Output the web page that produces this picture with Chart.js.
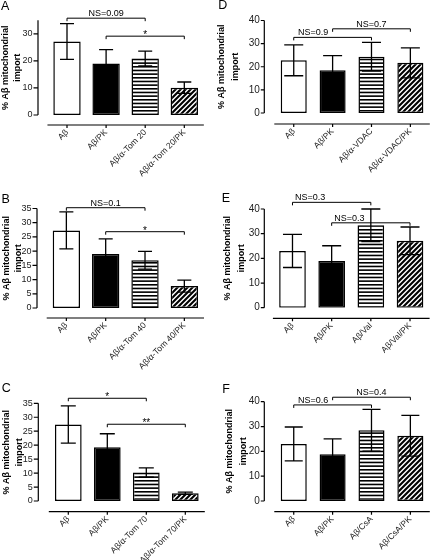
<!DOCTYPE html>
<html><head><meta charset="utf-8">
<script src="https://cdn.jsdelivr.net/npm/chart.js@4.4.1/dist/chart.umd.min.js"></script>
<style>
html,body{margin:0;padding:0;background:#fff;overflow:hidden;width:430px;height:560px;}
canvas{position:absolute;}
</style></head><body>
<canvas id="cA"></canvas><canvas id="cB"></canvas><canvas id="cC"></canvas>
<canvas id="cD"></canvas><canvas id="cE"></canvas><canvas id="cF"></canvas>
<script>
// ---------------- data ----------------
const yTitle = ['% Aβ mitochondrial', 'import'];

const labelsA = ['Aβ', 'Aβ/PK', 'Aβ/α-Tom 20', 'Aβ/α-Tom 20/PK'];
const valuesA = [27.2, 19.0, 20.9, 10.1];
const errorsA = [6.6, 5.2, 2.7, 2.1];
const bracketsA = [{from: 0, to: 2, text: 'NS=0.09'}, {from: 1, to: 3, text: '*'}];

const labelsB = ['Aβ', 'Aβ/PK', 'Aβ/α-Tom 40', 'Aβ/α-Tom 40/PK'];
const valuesB = [27.3, 19.0, 16.8, 7.7];
const errorsB = [6.5, 5.3, 3.1, 2.1];
const bracketsB = [{from: 0, to: 2, text: 'NS=0.1'}, {from: 1, to: 3, text: '*'}];

const labelsC = ['Aβ', 'Aβ/PK', 'Aβ/α-Tom 70', 'Aβ/α-Tom 70/PK'];
const valuesC = [27.4, 19.3, 10.2, 2.8];
const errorsC = [6.7, 4.8, 1.7, 0.4];
const bracketsC = [{from: 0, to: 2, text: '*'}, {from: 1, to: 3, text: '**'}];

const labelsD = ['Aβ', 'Aβ/PK', 'Aβ/α-VDAC', 'Aβ/α-VDAC/PK'];
const valuesD = [22.8, 18.5, 24.3, 21.7];
const errorsD = [6.7, 6.3, 6.2, 6.5];
const bracketsD = [{from: 0, to: 2, text: 'NS=0.9'}, {from: 1, to: 3, text: 'NS=0.7'}];

const labelsE = ['Aβ', 'Aβ/PK', 'Aβ/Val', 'Aβ/Val/PK'];
const valuesE = [23.0, 18.9, 33.4, 27.1];
const errorsE = [6.7, 6.2, 6.6, 5.6];
const bracketsE = [{from: 0, to: 2, text: 'NS=0.3'}, {from: 1, to: 3, text: 'NS=0.3'}];

const labelsF = ['Aβ', 'Aβ/PK', 'Aβ/CsA', 'Aβ/CsA/PK'];
const valuesF = [23.0, 18.8, 28.5, 26.3];
const errorsF = [6.8, 6.2, 8.4, 8.2];
const bracketsF = [{from: 0, to: 2, text: 'NS=0.6'}, {from: 1, to: 3, text: 'NS=0.4'}];

const yMaxABC = 35, yStepABC = 5;
const yMaxDEF = 40, yStepDEF = 10;

// ---------------- layout / style (page pixels) ----------------
const FONT = "'Liberation Sans', Arial, Helvetica, sans-serif";
Chart.defaults.font.family = FONT;
Chart.defaults.color = '#000';
Chart.defaults.animation = false;

const panels = [
  {id: 'cA', letter: 'A', labels: labelsA, values: valuesA, errors: errorsA, brackets: bracketsA, yMax: yMaxABC, yStep: yStepABC,
   canvas: {l: 0, t: 0, w: 215, h: 185}, area: {l: 47.45, r: 203.85, t: 15, b: 115}, yAxisX: 38, xAxisY: 125,
   letterPos: [1, 9.5], tickFont: 9, yTick: 4.5, titleLH: 12, titlePad: 0, cap: 14, barPct: 0.7,
   bLevels: [35.8, 29.15], bTextAt: [null, null]},
  {id: 'cB', letter: 'B', labels: labelsB, values: valuesB, errors: errorsB, brackets: bracketsB, yMax: yMaxABC, yStep: yStepABC,
   canvas: {l: 0, t: 185, w: 215, h: 185}, area: {l: 46.7, r: 204, t: 208.5, b: 308}, yAxisX: 37, xAxisY: 318,
   letterPos: [1.5, 203.3], tickFont: 9, yTick: 4.5, titleLH: 12, titlePad: 0.7, cap: 14, barPct: 0.695,
   bLevels: [35.28, 26.84], bTextAt: [null, null]},
  {id: 'cC', letter: 'C', labels: labelsC, values: valuesC, errors: errorsC, brackets: bracketsC, yMax: yMaxABC, yStep: yStepABC,
   canvas: {l: 0, t: 370, w: 215, h: 190}, area: {l: 48.8, r: 204.8, t: 403.3, b: 501}, yAxisX: 38.3, xAxisY: 511.7,
   letterPos: [1.7, 392.3], tickFont: 9, yTick: 4.5, titleLH: 12.3, titlePad: 0.7, cap: 15, barPct: 0.685,
   bLevels: [36.8, 27.5], bTextAt: [null, null]},
  {id: 'cD', letter: 'D', labels: labelsD, values: valuesD, errors: errorsD, brackets: bracketsD, yMax: yMaxDEF, yStep: yStepDEF,
   canvas: {l: 215, t: 0, w: 222, h: 185}, area: {l: 274.3, r: 429.8, t: 14, b: 113}, yAxisX: 264.3, xAxisY: 124,
   letterPos: [218.3, 9], tickFont: 10, yTick: 3.5, titleLH: 14, titlePad: 0, cap: 19, barPct: 0.67,
   bLevels: [32.7, 36.4], bTextAt: [0.5, null]},
  {id: 'cE', letter: 'E', labels: labelsE, values: valuesE, errors: errorsE, brackets: bracketsE, yMax: yMaxDEF, yStep: yStepDEF,
   canvas: {l: 215, t: 185, w: 222, h: 185}, area: {l: 272.9, r: 429.6, t: 209, b: 307.7}, yAxisX: 264.3, xAxisY: 318.3,
   letterPos: [221.7, 201.7], tickFont: 10, yTick: 3.5, titleLH: 14, titlePad: 5.5, cap: 19, barPct: 0.68,
   bLevels: [42.7, 34.4], bTextAt: [0.45, 1.45]},
  {id: 'cF', letter: 'F', labels: labelsF, values: valuesF, errors: errorsF, brackets: bracketsF, yMax: yMaxDEF, yStep: yStepDEF,
   canvas: {l: 215, t: 370, w: 222, h: 190}, area: {l: 274.3, r: 429.8, t: 401.7, b: 501}, yAxisX: 264.3, xAxisY: 511.7,
   letterPos: [222.3, 393.3], tickFont: 10, yTick: 3.5, titleLH: 14, titlePad: 8, cap: 18, barPct: 0.67,
   bLevels: [38.7, 41.8], bTextAt: [0.5, null]}
];

function stripePattern(ctx) {
  const c = document.createElement('canvas'); c.width = 8; c.height = 11;
  const g = c.getContext('2d');
  g.fillStyle = '#fff'; g.fillRect(0, 0, 8, 11);
  g.fillStyle = '#000';
  [0, 3.67, 7.33].forEach(y => g.fillRect(0, y, 8, 1.6));
  return ctx.createPattern(c, 'repeat');
}
function hatchPattern(ctx) {
  const s = 5;
  const c = document.createElement('canvas'); c.width = s; c.height = s;
  const g = c.getContext('2d');
  g.fillStyle = '#fff'; g.fillRect(0, 0, s, s);
  g.strokeStyle = '#000'; g.lineWidth = 2.1;
  g.beginPath();
  g.moveTo(-1, s + 1); g.lineTo(s + 1, -1);
  g.moveTo(-2, 2); g.lineTo(2, -2);
  g.moveTo(s - 2, s + 2); g.lineTo(s + 2, s - 2);
  g.stroke();
  return ctx.createPattern(c, 'repeat');
}

const decor = {
  id: 'decor',
  afterDatasetsDraw(chart, args, o) {
    const ctx = chart.ctx, ys = chart.scales.y, meta = chart.getDatasetMeta(0);
    const ds = chart.data.datasets[0];
    ctx.save();
    ctx.strokeStyle = '#000'; ctx.lineWidth = 1.3;
    meta.data.forEach((bar, i) => {
      const v = ds.data[i], e = o.errors[i];
      const x = bar.x, yt = ys.getPixelForValue(v + e), yb = ys.getPixelForValue(v - e);
      const hw = o.cap / 2;
      ctx.beginPath();
      ctx.moveTo(x, yb); ctx.lineTo(x, yt);
      ctx.moveTo(x - hw, yt); ctx.lineTo(x + hw, yt);
      ctx.moveTo(x - hw, yb); ctx.lineTo(x + hw, yb);
      ctx.stroke();
    });
    ctx.restore();
  },
  afterDraw(chart, args, o) {
    const ctx = chart.ctx, xs = chart.scales.x, ys = chart.scales.y, a = chart.chartArea;
    ctx.save();
    ctx.strokeStyle = '#000'; ctx.lineWidth = 1.2;
    ctx.beginPath();
    ctx.moveTo(o.yAxisX, ys.getPixelForValue(ys.max));
    ctx.lineTo(o.yAxisX, ys.getPixelForValue(ys.min));
    ys.ticks.forEach(t => {
      const p = ys.getPixelForValue(t.value);
      ctx.moveTo(o.yAxisX - o.yTick, p); ctx.lineTo(o.yAxisX, p);
    });
    ctx.moveTo(a.left, o.xAxisY); ctx.lineTo(a.right, o.xAxisY);
    xs.ticks.forEach((t, i) => {
      const p = xs.getPixelForValue(i);
      ctx.moveTo(p, o.xAxisY); ctx.lineTo(p, o.xAxisY + 3);
    });
    ctx.stroke();
    // significance brackets
    ctx.lineWidth = 1;
    o.brackets.forEach((b, k) => {
      const x1 = xs.getPixelForValue(b.from), x2 = xs.getPixelForValue(b.to);
      const y = ys.getPixelForValue(o.bLevels[k]);
      ctx.beginPath();
      ctx.moveTo(x1, y + 3); ctx.lineTo(x1, y); ctx.lineTo(x2, y); ctx.lineTo(x2, y + 3);
      ctx.stroke();
      const ta = o.bTextAt[k];
      const tx = ta == null ? (x1 + x2) / 2 : xs.getPixelForValue(ta);
      ctx.fillStyle = '#000'; ctx.textAlign = 'center'; ctx.textBaseline = 'alphabetic';
      if (b.text.startsWith('NS')) {
        ctx.font = '9px ' + FONT;
        ctx.fillText(b.text, tx, y - 2);
      } else {
        ctx.font = '10px ' + FONT;
        ctx.fillText(b.text, tx, y + 2);
      }
    });
    ctx.font = '12.5px ' + FONT; ctx.textAlign = 'left'; ctx.textBaseline = 'alphabetic';
    ctx.fillStyle = '#000';
    ctx.fillText(o.letter, o.letterPos[0], o.letterPos[1]);
    ctx.restore();
  }
};

panels.forEach(p => {
  const cv = document.getElementById(p.id);
  const c = p.canvas, ar = p.area;
  cv.width = c.w; cv.height = c.h;
  cv.style.left = c.l + 'px'; cv.style.top = c.t + 'px';
  cv.style.width = c.w + 'px'; cv.style.height = c.h + 'px';
  const ctx = cv.getContext('2d');
  const fills = ['#ffffff', '#000000', stripePattern(ctx), hatchPattern(ctx)];
  const areaL = ar.l - c.l, areaB = ar.b - c.t;
  new Chart(ctx, {
    type: 'bar',
    data: {
      labels: p.labels,
      datasets: [{
        data: p.values,
        backgroundColor: fills,
        borderColor: '#000',
        borderWidth: 1.5,
        borderSkipped: false,
        barPercentage: p.barPct,
        categoryPercentage: 1
      }]
    },
    options: {
      responsive: false,
      animation: false,
      devicePixelRatio: 1,
      layout: {padding: {left: 0, top: ar.t - c.t, right: c.l + c.w - ar.r, bottom: 0}},
      plugins: {
        legend: {display: false},
        tooltip: {enabled: false},
        decor: {
          errors: p.errors, cap: p.cap, brackets: p.brackets, bLevels: p.bLevels, bTextAt: p.bTextAt,
          yAxisX: p.yAxisX - c.l, xAxisY: p.xAxisY - c.t, yTick: p.yTick,
          letter: p.letter, letterPos: [p.letterPos[0] - c.l, p.letterPos[1] - c.t]
        }
      },
      scales: {
        x: {
          type: 'category', offset: true,
          grid: {display: false, drawTicks: false}, border: {display: false},
          ticks: {autoSkip: false, minRotation: 45, maxRotation: 45,
                  padding: (p.xAxisY - ar.b) + 2.5, font: {size: 8.5}, color: '#222'},
          afterFit(s) { s.height = c.h - areaB; }
        },
        y: {
          min: 0, max: p.yMax,
          grid: {display: false, drawTicks: false}, border: {display: false},
          ticks: {stepSize: p.yStep, font: {size: p.tickFont}, color: '#222',
                  padding: ar.l - (p.yAxisX - p.yTick - 1)},
          title: {display: true, text: yTitle, color: '#000',
                  font: {size: 9, weight: 'bold', lineHeight: p.titleLH / 9},
                  padding: {top: p.titlePad, bottom: 0}},
          afterFit(s) { s.width = areaL; }
        }
      }
    },
    plugins: [decor]
  });
});
</script>
</body></html>
